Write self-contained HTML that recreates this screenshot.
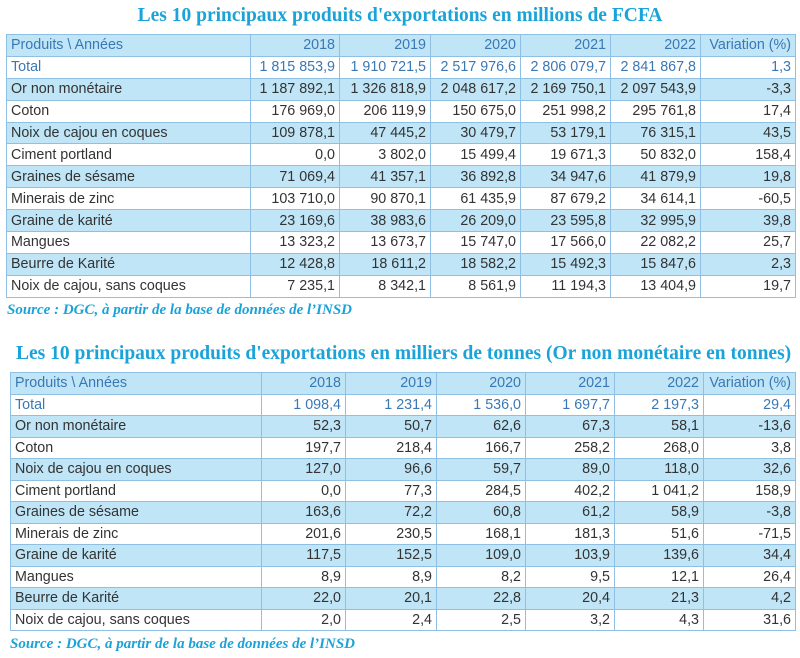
<!DOCTYPE html>
<html><head><meta charset="utf-8"><style>
body{margin:0;width:800px;height:658px;background:#fff;position:relative;overflow:hidden;font-family:"Liberation Sans",sans-serif}
.t{position:absolute;font-family:"Liberation Serif",serif;font-weight:bold;color:#1aa3d8;font-size:19.5px;white-space:nowrap}
.s{position:absolute;font-family:"Liberation Serif",serif;font-weight:bold;font-style:italic;color:#1aa3d8;font-size:15px;white-space:nowrap}
table{position:absolute;border-collapse:collapse;table-layout:fixed;font-size:14.3px}
td{border:1.5px solid #8fc0e3;padding:0 4px;text-align:right;white-space:nowrap;overflow:hidden;color:#333;line-height:18px}
#a td{height:20.9px}
#b td{height:20.5px}
td:first-child{text-align:left}
tr.b td{background:#bfe5f7}
tr.h td{color:#3a78b5;background:#bfe5f7}
tr.tot td{color:#3a78b5}
</style></head><body>
<div class="t" style="left:0;width:800px;text-align:center;top:5px">Les 10 principaux produits d'exportations en millions de FCFA</div>
<table id="a" style="left:6px;top:34px;width:789px">
<colgroup><col style="width:244px"><col style="width:89px"><col style="width:91px"><col style="width:90px"><col style="width:90px"><col style="width:90px"><col style="width:95px"></colgroup>
<tr class="h"><td>Produits \ Années</td><td>2018</td><td>2019</td><td>2020</td><td>2021</td><td>2022</td><td>Variation (%)</td></tr>
<tr class="tot"><td>Total</td><td>1 815 853,9</td><td>1 910 721,5</td><td>2 517 976,6</td><td>2 806 079,7</td><td>2 841 867,8</td><td>1,3</td></tr>
<tr class="b"><td>Or non monétaire</td><td>1 187 892,1</td><td>1 326 818,9</td><td>2 048 617,2</td><td>2 169 750,1</td><td>2 097 543,9</td><td>-3,3</td></tr>
<tr><td>Coton</td><td>176 969,0</td><td>206 119,9</td><td>150 675,0</td><td>251 998,2</td><td>295 761,8</td><td>17,4</td></tr>
<tr class="b"><td>Noix de cajou en coques</td><td>109 878,1</td><td>47 445,2</td><td>30 479,7</td><td>53 179,1</td><td>76 315,1</td><td>43,5</td></tr>
<tr><td>Ciment portland</td><td>0,0</td><td>3 802,0</td><td>15 499,4</td><td>19 671,3</td><td>50 832,0</td><td>158,4</td></tr>
<tr class="b"><td>Graines de sésame</td><td>71 069,4</td><td>41 357,1</td><td>36 892,8</td><td>34 947,6</td><td>41 879,9</td><td>19,8</td></tr>
<tr><td>Minerais de zinc</td><td>103 710,0</td><td>90 870,1</td><td>61 435,9</td><td>87 679,2</td><td>34 614,1</td><td>-60,5</td></tr>
<tr class="b"><td>Graine de karité</td><td>23 169,6</td><td>38 983,6</td><td>26 209,0</td><td>23 595,8</td><td>32 995,9</td><td>39,8</td></tr>
<tr><td>Mangues</td><td>13 323,2</td><td>13 673,7</td><td>15 747,0</td><td>17 566,0</td><td>22 082,2</td><td>25,7</td></tr>
<tr class="b"><td>Beurre de Karité</td><td>12 428,8</td><td>18 611,2</td><td>18 582,2</td><td>15 492,3</td><td>15 847,6</td><td>2,3</td></tr>
<tr><td>Noix de cajou, sans coques</td><td>7 235,1</td><td>8 342,1</td><td>8 561,9</td><td>11 194,3</td><td>13 404,9</td><td>19,7</td></tr>
</table>
<div class="s" style="left:7px;top:302px">Source : DGC, à partir de la base de données de l’INSD</div>
<div class="t" style="left:16px;top:343px">Les 10 principaux produits d'exportations en milliers de tonnes (Or non monétaire en tonnes)</div>
<table id="b" style="left:10px;top:372px;width:785px">
<colgroup><col style="width:251px"><col style="width:84px"><col style="width:91px"><col style="width:89px"><col style="width:89px"><col style="width:89px"><col style="width:92px"></colgroup>
<tr class="h"><td>Produits \ Années</td><td>2018</td><td>2019</td><td>2020</td><td>2021</td><td>2022</td><td>Variation (%)</td></tr>
<tr class="tot"><td>Total</td><td>1 098,4</td><td>1 231,4</td><td>1 536,0</td><td>1 697,7</td><td>2 197,3</td><td>29,4</td></tr>
<tr class="b"><td>Or non monétaire</td><td>52,3</td><td>50,7</td><td>62,6</td><td>67,3</td><td>58,1</td><td>-13,6</td></tr>
<tr><td>Coton</td><td>197,7</td><td>218,4</td><td>166,7</td><td>258,2</td><td>268,0</td><td>3,8</td></tr>
<tr class="b"><td>Noix de cajou en coques</td><td>127,0</td><td>96,6</td><td>59,7</td><td>89,0</td><td>118,0</td><td>32,6</td></tr>
<tr><td>Ciment portland</td><td>0,0</td><td>77,3</td><td>284,5</td><td>402,2</td><td>1 041,2</td><td>158,9</td></tr>
<tr class="b"><td>Graines de sésame</td><td>163,6</td><td>72,2</td><td>60,8</td><td>61,2</td><td>58,9</td><td>-3,8</td></tr>
<tr><td>Minerais de zinc</td><td>201,6</td><td>230,5</td><td>168,1</td><td>181,3</td><td>51,6</td><td>-71,5</td></tr>
<tr class="b"><td>Graine de karité</td><td>117,5</td><td>152,5</td><td>109,0</td><td>103,9</td><td>139,6</td><td>34,4</td></tr>
<tr><td>Mangues</td><td>8,9</td><td>8,9</td><td>8,2</td><td>9,5</td><td>12,1</td><td>26,4</td></tr>
<tr class="b"><td>Beurre de Karité</td><td>22,0</td><td>20,1</td><td>22,8</td><td>20,4</td><td>21,3</td><td>4,2</td></tr>
<tr><td>Noix de cajou, sans coques</td><td>2,0</td><td>2,4</td><td>2,5</td><td>3,2</td><td>4,3</td><td>31,6</td></tr>
</table>
<div class="s" style="left:10px;top:636px">Source : DGC, à partir de la base de données de l’INSD</div>
</body></html>
